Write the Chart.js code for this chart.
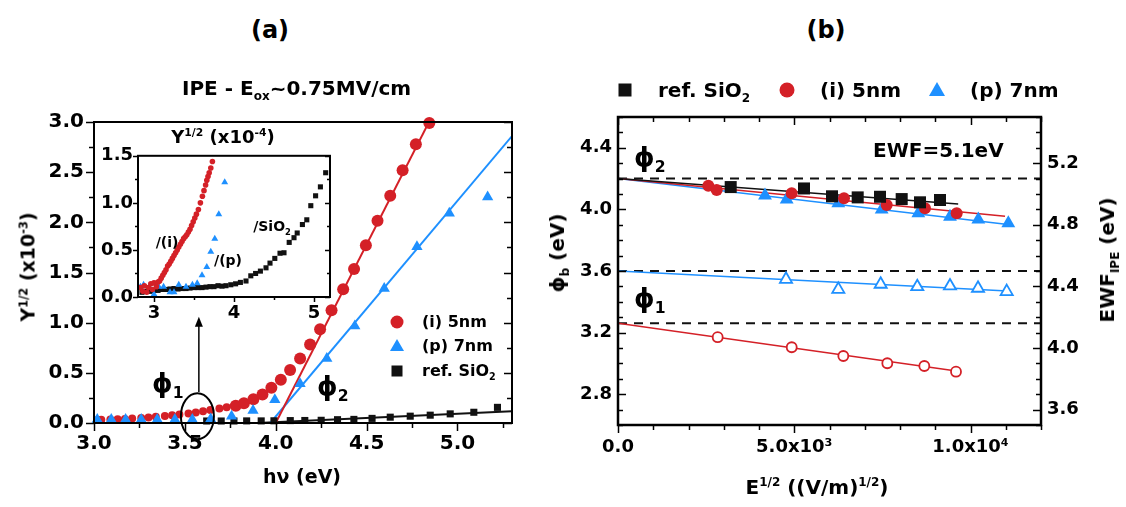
<!DOCTYPE html>
<html>
<head>
<meta charset="utf-8">
<script src="https://cdn.jsdelivr.net/npm/chart.js@4.4.1/dist/chart.umd.min.js"></script>
<style>
  html, body { margin: 0; padding: 0; background: #fff; }
  #page { position: relative; width: 1126px; height: 507px; overflow: hidden;
          font-family: "DejaVu Sans", sans-serif; font-weight: bold; color: #000; }
  canvas { position: absolute; }
  .t { position: absolute; white-space: nowrap; line-height: 1; z-index: 5; }
  .c { transform: translate(-50%, -50%); }
  .v { transform: translateY(-50%); }
  .rot { transform: translate(-50%, -50%) rotate(-90deg); }
  sub, sup { font-size: 0.6em; line-height: 0; }
  .mk { position: absolute; z-index: 5; transform: translate(-50%, -50%); }
  .circ { border-radius: 50%; background: #d42027; }
  .sq { background: #111; }
  .tri { width: 0; height: 0; border-style: solid; border-color: transparent transparent #1e90ff transparent; }
</style>
</head>
<body>
<div id="page">
  <canvas id="chartA" width="530" height="407" style="left:0;top:100px"></canvas>
  <canvas id="chartIn" width="240" height="185" style="left:100px;top:140px"></canvas>
  <canvas id="chartB" width="586" height="407" style="left:540px;top:100px"></canvas>

  <div class="t c" style="left:270px;top:30px;font-size:24px">(a)</div>
  <div class="t c" style="left:826px;top:30px;font-size:24px">(b)</div>

  <!-- panel a texts -->
  <div class="t v" style="left:182px;top:88px;font-size:20px">IPE - E<sub>ox</sub>~0.75MV/cm</div>
  <div class="t rot" style="left:28px;top:267px;font-size:19px">Y<sup>1/2</sup> (x10<sup>-3</sup>)</div>
  <div class="t c" style="left:302px;top:476px;font-size:19px">hν (eV)</div>
  <div class="t c" style="left:223px;top:137px;font-size:18px">Y<sup>1/2</sup> (x10<sup>-4</sup>)</div>
  <div class="t c" style="left:167px;top:242px;font-size:14px">/(i)</div>
  <div class="t c" style="left:228px;top:260px;font-size:14px">/(p)</div>
  <div class="t c" style="left:272px;top:226px;font-size:14px">/SiO<sub>2</sub></div>
  <div class="t" style="left:152px;top:370px;font-size:26px">ϕ<sub>1</sub></div>
  <div class="t" style="left:317px;top:373px;font-size:26px">ϕ<sub>2</sub></div>

  <div class="mk circ" style="left:397px;top:322px;width:13px;height:13px"></div>
  <div class="t v" style="left:422px;top:322px;font-size:16px">(i) 5nm</div>
  <div class="mk tri" style="left:397px;top:345px;border-width:0 7px 12px 7px"></div>
  <div class="t v" style="left:422px;top:346px;font-size:16px">(p) 7nm</div>
  <div class="mk sq" style="left:397px;top:371px;width:11px;height:11px"></div>
  <div class="t v" style="left:422px;top:371px;font-size:16px">ref. SiO<sub>2</sub></div>

  <!-- panel b texts -->
  <div class="mk sq" style="left:625px;top:90px;width:13px;height:13px"></div>
  <div class="t v" style="left:658px;top:90px;font-size:20px">ref. SiO<sub>2</sub></div>
  <div class="mk circ" style="left:787px;top:90px;width:15px;height:15px"></div>
  <div class="t v" style="left:820px;top:90px;font-size:20px">(i) 5nm</div>
  <div class="mk tri" style="left:937px;top:89px;border-width:0 8px 14px 8px"></div>
  <div class="t v" style="left:970px;top:90px;font-size:20px">(p) 7nm</div>
  <div class="t" style="left:634px;top:144px;font-size:26px">ϕ<sub>2</sub></div>
  <div class="t" style="left:634px;top:285px;font-size:26px">ϕ<sub>1</sub></div>
  <div class="t v" style="left:873px;top:150px;font-size:20px">EWF=5.1eV</div>
  <div class="t c" style="left:817px;top:487px;font-size:20px">E<sup>1/2</sup> ((V/m)<sup>1/2</sup>)</div>
  <div class="t rot" style="left:557px;top:253px;font-size:20px">ϕ<sub>b</sub> (eV)</div>
  <div class="t rot" style="left:1107px;top:260px;font-size:20px">EWF<sub>IPE</sub> (eV)</div>
</div>

<script>
const FONT = '"DejaVu Sans", sans-serif';
const RED = '#d42027';
const BLUE = '#1e90ff';
const BLACK = '#111';

// ---- panel (a): Y^1/2 (x10^-3) vs hv (eV) ----
const aRedHv = [3.02, 3.04, 3.09, 3.13, 3.17, 3.21, 3.26, 3.30, 3.34, 3.39, 3.43, 3.47, 3.52, 3.56, 3.60, 3.64, 3.69, 3.73,
                3.780, 3.825, 3.877, 3.927, 3.976, 4.028, 4.079, 4.134, 4.189, 4.244, 4.307, 4.371, 4.431, 4.496, 4.560, 4.630, 4.698, 4.771, 4.845];
const aRedY = [0.03, 0.032, 0.035, 0.038, 0.041, 0.045, 0.050, 0.055, 0.062, 0.069, 0.077, 0.085, 0.095, 0.105, 0.117, 0.130, 0.145, 0.158,
               0.172, 0.198, 0.237, 0.285, 0.351, 0.431, 0.529, 0.643, 0.782, 0.935, 1.123, 1.334, 1.535, 1.772, 2.016, 2.266, 2.519, 2.778, 2.99];
const aBlueHv = [3.018, 3.095, 3.174, 3.26, 3.348, 3.445, 3.541, 3.642, 3.757, 3.875, 3.995, 4.134, 4.281, 4.435, 4.597, 4.777, 4.955, 5.166];
const aBlueY = [0.035, 0.035, 0.035, 0.035, 0.035, 0.035, 0.035, 0.04, 0.068, 0.124, 0.231, 0.392, 0.643, 0.967, 1.341, 1.756, 2.09, 2.252];
const aBlackHv = [3.62, 3.70, 3.77, 3.84, 3.92, 3.99, 4.08, 4.16, 4.25, 4.34, 4.43, 4.53, 4.63, 4.74, 4.85, 4.96, 5.09, 5.22];
const aBlackY = [0.02, 0.02, 0.02, 0.021, 0.021, 0.022, 0.024, 0.025, 0.027, 0.033, 0.036, 0.046, 0.058, 0.068, 0.078, 0.091, 0.107, 0.156];
const aFitRedHv = [4.0, 4.86], aFitRedY = [0, 3.06];
const aFitBlueHv = [3.97, 5.3], aFitBlueY = [0, 2.86];
const aFitBlackHv = [3.9, 5.3], aFitBlackY = [0, 0.117];
const aXTicks = [3.0, 3.5, 4.0, 4.5, 5.0], aXLabels = ['3.0', '3.5', '4.0', '4.5', '5.0'];
const aYTicks = [0, 0.5, 1.0, 1.5, 2.0, 2.5, 3.0], aYLabels = ['0.0', '0.5', '1.0', '1.5', '2.0', '2.5', '3.0'];

// ---- inset: Y^1/2 (x10^-4) ----
const inRedHv = [2.83, 2.86, 2.88, 2.91, 2.93, 2.96, 2.98, 3.00, 3.03, 3.05, 3.07, 3.09, 3.11, 3.13, 3.15, 3.17, 3.19, 3.21, 3.23, 3.25, 3.27, 3.29,
                 3.31, 3.33, 3.35, 3.37, 3.39, 3.41, 3.43, 3.45, 3.47, 3.49, 3.51, 3.53, 3.555, 3.58, 3.605, 3.625, 3.645, 3.66, 3.675, 3.69, 3.71, 3.73];
const inRedY = [0.10, 0.06, 0.12, 0.05, 0.10, 0.14, 0.08, 0.15, 0.11, 0.16, 0.17, 0.20, 0.23, 0.26, 0.29, 0.33, 0.35, 0.38, 0.41, 0.44, 0.47, 0.50,
                0.53, 0.56, 0.59, 0.62, 0.64, 0.66, 0.69, 0.72, 0.76, 0.80, 0.84, 0.88, 0.93, 1.00, 1.07, 1.13, 1.19, 1.24, 1.28, 1.32, 1.37, 1.44];
const inBlueHv = [2.83, 2.87, 2.94, 3.00, 3.06, 3.12, 3.20, 3.25, 3.31, 3.40, 3.48, 3.54, 3.60, 3.66, 3.71, 3.76, 3.81, 3.884];
const inBlueY = [0.11, 0.13, 0.11, 0.03, 0.11, 0.11, 0.05, 0.05, 0.13, 0.11, 0.13, 0.145, 0.23, 0.32, 0.48, 0.62, 0.88, 1.22];
const inBlackHv = [2.85, 2.90, 2.95, 3.00, 3.05, 3.10, 3.15, 3.20, 3.25, 3.30, 3.35, 3.40, 3.45, 3.50, 3.55, 3.60, 3.65, 3.70, 3.75, 3.80, 3.85,
                   3.90, 3.96, 4.02, 4.08, 4.15, 4.21, 4.27, 4.33, 4.40, 4.45, 4.51, 4.575, 4.625, 4.69, 4.75, 4.79, 4.855, 4.91, 4.96, 5.02, 5.08, 5.146];
const inBlackY = [0.05, 0.06, 0.06, 0.07, 0.07, 0.08, 0.08, 0.085, 0.09, 0.085, 0.09, 0.09, 0.095, 0.10, 0.10, 0.10, 0.105, 0.11, 0.11, 0.12, 0.115,
                  0.12, 0.13, 0.14, 0.155, 0.17, 0.225, 0.25, 0.275, 0.31, 0.36, 0.41, 0.465, 0.47, 0.58, 0.63, 0.68, 0.77, 0.82, 0.97, 1.075, 1.17, 1.32];
const inXTicks = [3, 4, 5], inXLabels = ['3', '4', '5'];
const inYTicks = [0, 0.5, 1.0, 1.5], inYLabels = ['0.0', '0.5', '1.0', '1.5'];

// ---- panel (b): barrier vs E^1/2 ----
const bSqE = [3197, 5277, 6071, 6800, 7433, 8048, 8567, 9135];
const bSqPhi = [4.145, 4.136, 4.085, 4.078, 4.082, 4.067, 4.046, 4.061];
const bCircE = [2563, 2800, 4927, 6411, 7622, 8709, 9608];
const bCircPhi = [4.154, 4.126, 4.105, 4.072, 4.029, 4.007, 3.975];
const bTriE = [4170, 4785, 6250, 7480, 8520, 9418, 10222, 11073];
const bTriPhi = [4.09, 4.065, 4.04, 4.0, 3.975, 3.952, 3.935, 3.91];
const bOpenTriE = [4766, 6250, 7452, 8490, 9418, 10213, 11027];
const bOpenTriPhi = [3.546, 3.481, 3.514, 3.498, 3.503, 3.488, 3.466];
const bOpenCircE = [2828, 4928, 6392, 7640, 8690, 9589];
const bOpenCircPhi = [3.170, 3.105, 3.048, 3.001, 2.983, 2.946];
const bFitSqE = [0, 9650], bFitSqPhi = [4.2, 4.035];
const bFitCircE = [0, 10980], bFitCircPhi = [4.2, 3.955];
const bFitTriE = [0, 11120], bFitTriPhi = [4.2, 3.9];
const bFitOpenTriE = [0, 11050], bFitOpenTriPhi = [3.6, 3.47];
const bFitOpenCircE = [0, 9600], bFitOpenCircPhi = [3.26, 2.95];
const bDashPhi = [4.2, 3.6, 3.26];
const bDashE = [0, 12000];
const bEwfOffset = 0.9;
const bXTicks = [0, 5000, 10000], bXLabels = ['0.0', '5.0x10³', '1.0x10⁴'];
const bYTicks = [2.8, 3.2, 3.6, 4.0, 4.4], bYLabels = ['2.8', '3.2', '3.6', '4.0', '4.4'];
const bY2Ticks = [3.6, 4.0, 4.4, 4.8, 5.2], bY2Labels = ['3.6', '4.0', '4.4', '4.8', '5.2'];

const pts = (xs, ys) => xs.map((x, i) => ({ x, y: ys[i] }));
const labeler = (vals, labels) => v => {
    const i = vals.findIndex(t => Math.abs(t - v) < 1e-6);
    return i < 0 ? '' : labels[i];
};

// box frame + tick marks drawn from the scales
const frameTicks = {
    id: 'frameTicks',
    beforeDraw(chart, args, o) {
        if (!o.fill) return;
        const a = chart.chartArea;
        chart.ctx.save();
        chart.ctx.fillStyle = '#fff';
        chart.ctx.fillRect(a.left, a.top, a.right - a.left, a.bottom - a.top);
        chart.ctx.restore();
    },
    afterDatasetsDraw(chart, args, o) {
        const { ctx, chartArea: a } = chart;
        ctx.save();
        ctx.strokeStyle = '#000';
        ctx.lineWidth = 1.5;
        (o.marks || []).forEach(m => {
            const sc = chart.scales[m.scale];
            sc.ticks.forEach(t => {
                const len = (t.label !== '' ? o.major : o.minor) * m.dir;
                const p = Math.round(sc.getPixelForValue(t.value)) + 0.5;
                ctx.beginPath();
                if (m.edge === 'left') { ctx.moveTo(a.left, p); ctx.lineTo(a.left - len, p); }
                if (m.edge === 'right') { ctx.moveTo(a.right, p); ctx.lineTo(a.right + len, p); }
                if (m.edge === 'top') { ctx.moveTo(p, a.top); ctx.lineTo(p, a.top - len); }
                if (m.edge === 'bottom') { ctx.moveTo(p, a.bottom); ctx.lineTo(p, a.bottom + len); }
                ctx.stroke();
            });
        });
        ctx.lineWidth = o.frame;
        ctx.strokeRect(a.left, a.top, a.right - a.left, a.bottom - a.top);
        ctx.restore();
    }
};

// ellipse round phi1 and arrow up to the inset
const markup = {
    id: 'markup',
    afterDatasetsDraw(chart, args, o) {
        if (!o.ellipse) return;
        const { ctx, scales: { x, y } } = chart;
        ctx.save();
        ctx.strokeStyle = '#000';
        ctx.fillStyle = '#000';
        ctx.lineWidth = 2;
        ctx.beginPath();
        ctx.ellipse(x.getPixelForValue(o.ellipse.x), y.getPixelForValue(o.ellipse.y), o.ellipse.rx, o.ellipse.ry, 0, 0, Math.PI * 2);
        ctx.stroke();
        const ax = x.getPixelForValue(o.arrow.x);
        const y0 = y.getPixelForValue(o.arrow.from), y1 = y.getPixelForValue(o.arrow.to);
        ctx.lineWidth = 1.5;
        ctx.beginPath();
        ctx.moveTo(ax, y0);
        ctx.lineTo(ax, y1 + 8);
        ctx.stroke();
        ctx.beginPath();
        ctx.moveTo(ax, y1);
        ctx.lineTo(ax - 4, y1 + 10);
        ctx.lineTo(ax + 4, y1 + 10);
        ctx.closePath();
        ctx.fill();
        ctx.restore();
    }
};

function axis(min, max, step, vals, labels, size, pad, fit) {
    return {
        type: 'linear', min, max,
        afterFit: fit,
        grid: { display: false, drawTicks: false },
        border: { display: false },
        ticks: {
            stepSize: step, autoSkip: false, includeBounds: false, maxRotation: 0, padding: pad,
            color: '#000', font: { family: FONT, size, weight: 'bold' },
            callback: labeler(vals, labels)
        }
    };
}

function marker(data, style, radius, color, fill) {
    return { data, pointStyle: style, pointRadius: radius, pointHoverRadius: radius,
             pointBackgroundColor: fill || color, pointBorderColor: color, pointBorderWidth: fill ? 1.8 : 0,
             showLine: false, clip: false };
}

function line(data, color, width, dash) {
    return { data, showLine: true, borderColor: color, borderWidth: width, borderDash: dash || [],
             pointRadius: 0, fill: false, tension: 0 };
}

const common = {
    responsive: false, animation: false, devicePixelRatio: 1,
    events: [],
};

// ---- chart (a) ----  (first dataset ends up on top)
new Chart(document.getElementById('chartA'), {
    type: 'scatter',
    data: {
        datasets: [
            marker(pts(aBlueHv, aBlueY), 'triangle', 6.5, BLUE),
            marker(pts(aBlackHv, aBlackY), 'rect', 5, BLACK),
            Object.assign(marker(pts(aRedHv, aRedY), 'circle', 6, RED),
                          { pointRadius: c => (c.raw && c.raw.x < 3.77 ? 4 : 6) }),
            line(pts(aFitRedHv, aFitRedY), RED, 2),
            line(pts(aFitBlueHv, aFitBlueY), BLUE, 2),
            line(pts(aFitBlackHv, aFitBlackY), BLACK, 2)
        ]
    },
    options: Object.assign({}, common, {
        layout: { padding: { left: 0, top: 14, right: 18, bottom: 0 } },
        scales: {
            x: axis(3.0, 5.3, 0.25, aXTicks, aXLabels, 20, 9, s => { s.height = 84; }),
            y: axis(0, 3.0, 0.25, aYTicks, aYLabels, 20, 10, s => { s.width = 94; })
        },
        plugins: {
            legend: { display: false }, tooltip: { enabled: false },
            frameTicks: { frame: 2, major: 8, minor: 5,
                marks: [{ scale: 'x', edge: 'bottom', dir: 1 }, { scale: 'y', edge: 'left', dir: 1 },
                        { scale: 'y', edge: 'right', dir: -1 }] },
            markup: { ellipse: { x: 3.569, y: 0.068, rx: 16.5, ry: 23 },
                      arrow: { x: 3.577, from: 0.31, to: 1.06 } }
        }
    }),
    plugins: [frameTicks, markup]
});

// ---- inset ----
new Chart(document.getElementById('chartIn'), {
    type: 'scatter',
    data: {
        datasets: [
            marker(pts(inRedHv, inRedY), 'circle', 2.8, RED),
            marker(pts(inBlueHv, inBlueY), 'triangle', 4, BLUE),
            marker(pts(inBlackHv, inBlackY), 'rect', 3.6, BLACK)
        ]
    },
    options: Object.assign({}, common, {
        layout: { padding: { left: 0, top: 12, right: 10, bottom: 0 } },
        scales: {
            x: axis(2.8, 5.2, 0.5, inXTicks, inXLabels, 18, 6, s => { s.height = 28; }),
            y: axis(0, 1.5, 0.25, inYTicks, inYLabels, 18, 5, s => { s.width = 38; })
        },
        plugins: {
            legend: { display: false }, tooltip: { enabled: false },
            frameTicks: { fill: true, frame: 2, major: 5, minor: 3,
                marks: [{ scale: 'y', edge: 'left', dir: 1 }, { scale: 'y', edge: 'right', dir: -1 },
                        { scale: 'x', edge: 'bottom', dir: 1 }] }
        }
    }),
    plugins: [frameTicks]
});

// ---- chart (b) ----
const bDatasets = [
    marker(pts(bSqE, bSqPhi), 'rect', 8.5, BLACK),
    marker(pts(bCircE, bCircPhi), 'circle', 6, RED),
    marker(pts(bTriE, bTriPhi), 'triangle', 8, BLUE),
    marker(pts(bOpenTriE, bOpenTriPhi), 'triangle', 7, BLUE, '#fff'),
    marker(pts(bOpenCircE, bOpenCircPhi), 'circle', 5, RED, '#fff'),
    line(pts(bFitSqE, bFitSqPhi), BLACK, 1.5),
    line(pts(bFitCircE, bFitCircPhi), RED, 1.5),
    line(pts(bFitTriE, bFitTriPhi), BLUE, 1.5),
    line(pts(bFitOpenTriE, bFitOpenTriPhi), BLUE, 1.5),
    line(pts(bFitOpenCircE, bFitOpenCircPhi), RED, 1.5)
];
bDashPhi.forEach(p => bDatasets.push(line(pts(bDashE, bDashE.map(() => p)), BLACK, 2, [9, 7])));

new Chart(document.getElementById('chartB'), {
    type: 'scatter',
    data: { datasets: bDatasets },
    options: Object.assign({}, common, {
        layout: { padding: { left: 0, top: 17, right: 0, bottom: 0 } },
        scales: {
            x: axis(0, 12000, 1000, bXTicks, bXLabels, 18, 12, s => { s.height = 82; }),
            y: axis(2.6, 4.6, 0.1, bYTicks, bYLabels, 18, 6, s => { s.width = 78; }),
            y2: Object.assign(axis(2.6 + bEwfOffset, 4.6 + bEwfOffset, 0.1, bY2Ticks, bY2Labels, 18, 6, s => { s.width = 85; }),
                              { position: 'right' })
        },
        plugins: {
            legend: { display: false }, tooltip: { enabled: false },
            frameTicks: { frame: 2.5, major: 8, minor: 5,
                marks: [{ scale: 'x', edge: 'bottom', dir: 1 }, { scale: 'x', edge: 'top', dir: -1 },
                        { scale: 'y', edge: 'left', dir: -1 }, { scale: 'y2', edge: 'right', dir: -1 }] }
        }
    }),
    plugins: [frameTicks]
});
</script>
</body>
</html>
